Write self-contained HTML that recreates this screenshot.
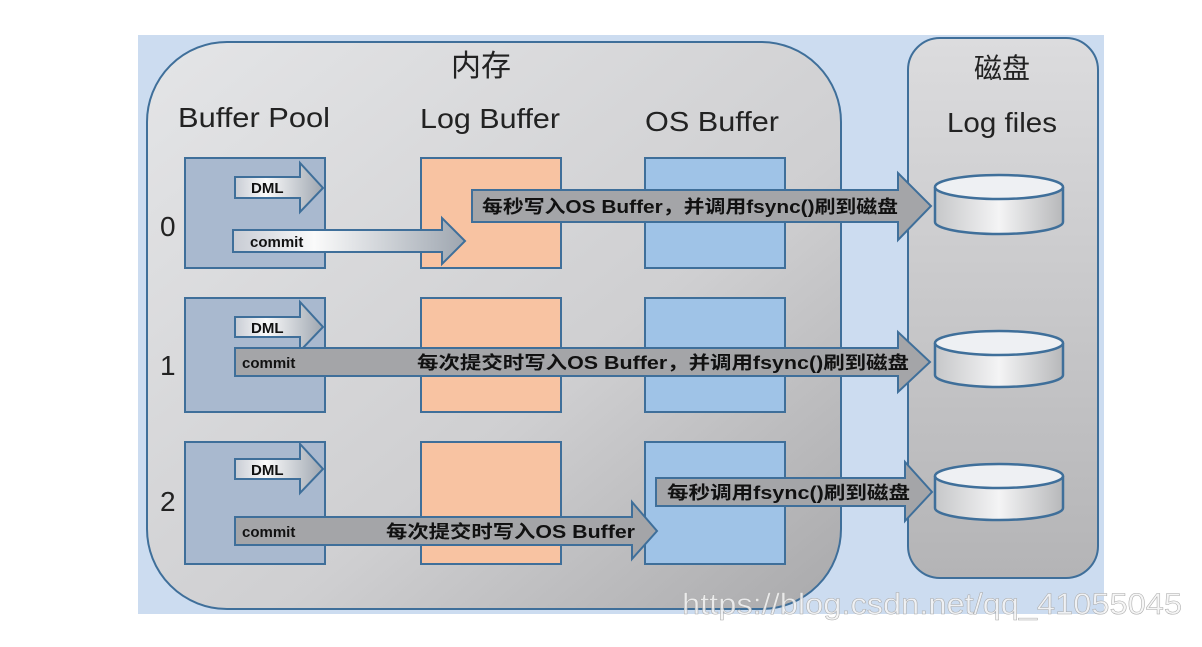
<!DOCTYPE html>
<html><head><meta charset="utf-8"><style>
body{margin:0;background:#fff;width:1202px;height:642px;overflow:hidden}
svg text{font-family:"Liberation Sans","Noto Sans CJK SC",sans-serif}
</style></head><body>
<svg width="1202" height="642" viewBox="0 0 1202 642" xmlns="http://www.w3.org/2000/svg">
<defs>
<linearGradient id="mem" x1="0" y1="0" x2="1" y2="1"><stop offset="0" stop-color="#e4e5e7"/><stop offset="0.6" stop-color="#cfcfd1"/><stop offset="1" stop-color="#a9a9ab"/></linearGradient>
<linearGradient id="disk" x1="0" y1="0" x2="0" y2="1"><stop offset="0" stop-color="#dcdcde"/><stop offset="1" stop-color="#b4b4b6"/></linearGradient>
<linearGradient id="wa" x1="0" y1="0" x2="1" y2="0"><stop offset="0" stop-color="#c8ccd4"/><stop offset="0.35" stop-color="#fafafa"/><stop offset="1" stop-color="#9ea6b0"/></linearGradient>
<linearGradient id="cyl" x1="0" y1="0" x2="1" y2="0"><stop offset="0" stop-color="#c6c7c9"/><stop offset="0.5" stop-color="#f4f4f5"/><stop offset="1" stop-color="#b7b8ba"/></linearGradient>
</defs>
<rect x="138" y="35" width="966" height="579" fill="#ccdcf0"/>
<rect x="147" y="42" width="694" height="567" rx="80" fill="url(#mem)" stroke="#3f6f9a" stroke-width="2"/>
<rect x="908" y="38" width="190" height="540" rx="32" fill="url(#disk)" stroke="#3f6f9a" stroke-width="2"/>
<g font-size="30" fill="#222" text-anchor="middle">
<text x="481" y="76">内存</text>
<text x="1002" y="78" font-size="28">磁盘</text>
</g>
<g font-size="28" fill="#222" lengthAdjust="spacingAndGlyphs">
<text x="178" y="127" textLength="152" lengthAdjust="spacingAndGlyphs">Buffer Pool</text>
<text x="420" y="128" textLength="140" lengthAdjust="spacingAndGlyphs">Log Buffer</text>
<text x="645" y="131" textLength="134" lengthAdjust="spacingAndGlyphs">OS Buffer</text>
<text x="947" y="132" textLength="110" lengthAdjust="spacingAndGlyphs">Log files</text>
<text x="160" y="236">0</text>
<text x="160" y="375">1</text>
<text x="160" y="511">2</text>
</g>
<g stroke="#3f6f9a" stroke-width="2">
<rect x="185" y="158" width="140" height="110" fill="#a9b9cf"/>
<rect x="185" y="298" width="140" height="114" fill="#a9b9cf"/>
<rect x="185" y="442" width="140" height="122" fill="#a9b9cf"/>
<rect x="421" y="158" width="140" height="110" fill="#f8c3a2"/>
<rect x="421" y="298" width="140" height="114" fill="#f8c3a2"/>
<rect x="421" y="442" width="140" height="122" fill="#f8c3a2"/>
<rect x="645" y="158" width="140" height="110" fill="#9fc3e7"/>
<rect x="645" y="298" width="140" height="114" fill="#9fc3e7"/>
<rect x="645" y="442" width="140" height="122" fill="#9fc3e7"/>
</g>
<g stroke="#3f6f9a" stroke-width="2" fill="url(#wa)">
<polygon points="235,177 300,177 300,163 323,188 300,212 300,198 235,198"/>
<polygon points="235,317 300,317 300,302 323,327 300,351 300,337 235,337"/>
<polygon points="235,459 300,459 300,444 323,469 300,493 300,479 235,479"/>
<polygon points="233,230 442,230 442,218 465,241 442,264 442,252 233,252"/>
</g>
<g stroke="#3f6f9a" stroke-width="2" fill="#a4a5a8">
<polygon points="472,190 898,190 898,173 931,206 898,240 898,222 472,222"/>
<polygon points="235,348 898,348 898,332 930,362 898,392 898,376 235,376"/>
<polygon points="235,517 632,517 632,502 657,531 632,559 632,545 235,545"/>
<polygon points="656,478 905,478 905,462 932,492 905,521 905,506 656,506"/>
</g>
<g font-weight="bold" font-size="15" fill="#111">
<text x="251" y="193">DML</text>
<text x="251" y="333">DML</text>
<text x="251" y="475">DML</text>
<text x="250" y="247">commit</text>
<text x="242" y="368">commit</text>
<text x="242" y="537">commit</text>
</g>
<g font-weight="bold" font-size="18" fill="#111">
<text x="482" y="213" textLength="416" lengthAdjust="spacingAndGlyphs">每秒写入OS Buffer，并调用fsync()刷到磁盘</text>
<text x="417" y="369" textLength="492" lengthAdjust="spacingAndGlyphs">每次提交时写入OS Buffer，并调用fsync()刷到磁盘</text>
<text x="386" y="538" textLength="249" lengthAdjust="spacingAndGlyphs">每次提交时写入OS Buffer</text>
<text x="667" y="499" textLength="243" lengthAdjust="spacingAndGlyphs">每秒调用fsync()刷到磁盘</text>
</g>
<g stroke="#3f6f9a" stroke-width="2.5">
<path d="M935,187 L935,222 A64,12 0 0 0 1063,222 L1063,187" fill="url(#cyl)"/>
<ellipse cx="999" cy="187" rx="64" ry="12" fill="#eef0f3"/>
<path d="M935,343 L935,375 A64,12 0 0 0 1063,375 L1063,343" fill="url(#cyl)"/>
<ellipse cx="999" cy="343" rx="64" ry="12" fill="#eef0f3"/>
<path d="M935,476 L935,508 A64,12 0 0 0 1063,508 L1063,476" fill="url(#cyl)"/>
<ellipse cx="999" cy="476" rx="64" ry="12" fill="#eef0f3"/>
</g>
<text x="682" y="614" font-size="30" textLength="500" lengthAdjust="spacingAndGlyphs" fill="#f4f4f4" fill-opacity="0.85" stroke="#aaa" stroke-width="0.5">https://blog.csdn.net/qq_41055045</text>
</svg>
</body></html>
